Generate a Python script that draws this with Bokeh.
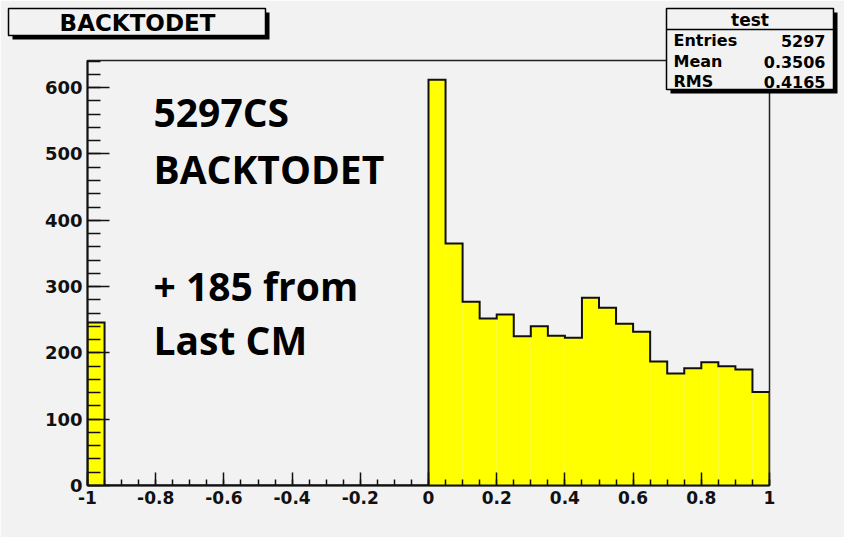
import numpy as np
from bokeh.plotting import figure
from bokeh.models import Range1d, SingleIntervalTicker, CustomJSTickFormatter
from bokeh.core.properties import value
from bokeh.embed import file_html
from bokeh.resources import INLINE

# ---------------- data ----------------
x_min, x_max, n_bins = -1.0, 1.0, 40
counts = [246] + [0] * 19 + [612, 365, 277, 252, 258, 225, 240, 226, 223, 283,
                             268, 244, 232, 187, 169, 177, 186, 180, 175, 141]
y_max = 641

hist_title = "BACKTODET"
stats_title = "test"
stats_names = ["Entries", "Mean", "RMS"]
stats_values = ["5297", "0.3506", "0.4165"]
notes = ["5297CS", "BACKTODET", "", "+ 185 from", "Last CM"]

# ---------------- layout ----------------
W, H = 844, 537
FL, FR, FT, FB = 87, 75, 60, 52
BG = "#f2f2f2"
FRAME_W = W - FL - FR
FRAME_H = H - FT - FB

def dx(px):
    """canvas pixel x -> data x"""
    return x_min + (px - FL) * (x_max - x_min) / FRAME_W

def dy(py):
    """canvas pixel y -> data y"""
    return (H - FB - py) * y_max / FRAME_H

edges = np.linspace(x_min, x_max, n_bins + 1)
vals = np.array(counts, dtype=float)

p = figure(width=W, height=H, output_backend="svg", toolbar_location=None,
           x_range=Range1d(x_min, x_max), y_range=Range1d(0, y_max),
           min_border_left=FL, min_border_right=FR, min_border_top=FT,
           min_border_bottom=FB)
p.background_fill_color = BG
p.border_fill_color = BG
p.outline_line_color = "#222222"
p.outline_line_width = 1.5
p.grid.visible = False

# histogram fill
p.quad(left=edges[:-1], right=edges[1:], bottom=0, top=vals,
       fill_color="#ffff00", line_color=None)
# step outline
xs = [edges[0]]
ys = [0.0]
for i in range(n_bins):
    xs += [edges[i], edges[i + 1]]
    ys += [vals[i], vals[i]]
xs.append(edges[-1])
ys.append(0.0)
p.line(xs, ys, line_color="#111111", line_width=2, line_join="miter")

# axes
for ax in (p.xaxis[0], p.yaxis[0]):
    ax.axis_line_color = "#111111"
    ax.axis_line_width = 2
    ax.major_tick_line_color = "#111111"
    ax.minor_tick_line_color = "#111111"
    ax.major_tick_line_width = 1.5
    ax.minor_tick_line_width = 1.5
    ax.major_tick_out = 0
    ax.minor_tick_out = 0
    ax.major_label_text_font = "DejaVu Sans"
    ax.major_label_text_font_style = "bold"
    ax.major_label_text_color = "#111111"

p.xaxis[0].ticker = SingleIntervalTicker(interval=0.2, num_minor_ticks=4)
p.xaxis[0].formatter = CustomJSTickFormatter(
    code="return Number(tick.toFixed(1)).toString();")
p.xaxis[0].major_tick_in = 13
p.xaxis[0].minor_tick_in = 6
p.xaxis[0].major_label_standoff = 5
p.xaxis[0].major_label_text_font_size = "17px"

p.yaxis[0].ticker = SingleIntervalTicker(interval=100, num_minor_ticks=5)
p.yaxis[0].major_tick_in = 22
p.yaxis[0].minor_tick_in = 13
p.yaxis[0].major_label_standoff = 5
p.yaxis[0].major_label_text_font_size = "18px"

def box(l, t, r, b, fill, line=None, lw=1.5):
    p.quad(left=[dx(l)], right=[dx(r)], top=[dy(t)], bottom=[dy(b)],
           fill_color=fill, line_color=line, line_width=lw, level="overlay")

def txt(px, py, s, size, font="DejaVu Sans", align="left"):
    p.text(x=[dx(px)], y=[dy(py)], text=[s], text_font=value(font),
           text_font_style="bold", text_font_size=size, text_color="#000000",
           text_align=align, text_baseline="middle", level="overlay")

# title box with shadow
box(12, 12, 269, 39, "#000000")
box(8, 8, 265, 35, BG, "#000000")
txt(137, 22, hist_title, "23px", align="center")

# stats box with shadow
SL, SR, ST, SB, SD = 666, 833, 8, 89, 29
box(SL + 4, ST + 4, SR + 4, SB + 4, "#000000")
box(SL, ST, SR, SB, BG, "#000000")
p.segment(x0=[dx(SL)], y0=[dy(SD)], x1=[dx(SR)], y1=[dy(SD)],
          line_color="#000000", line_width=1.5, level="overlay")
txt((SL + SR) / 2, 19, stats_title, "17px", align="center")
for name, val, mid in zip(stats_names, stats_values, [40, 61, 81]):
    txt(SL + 7, mid, name, "16px", align="left")
    txt(SR - 8, mid, val, "16px", align="right")

# big annotation text
for t, mid in zip(notes, [111, 168, 226, 285, 339]):
    if t:
        txt(153, mid, t, "39px", font="Open Sans")

open("out.html", "w").write(file_html(p, INLINE))
